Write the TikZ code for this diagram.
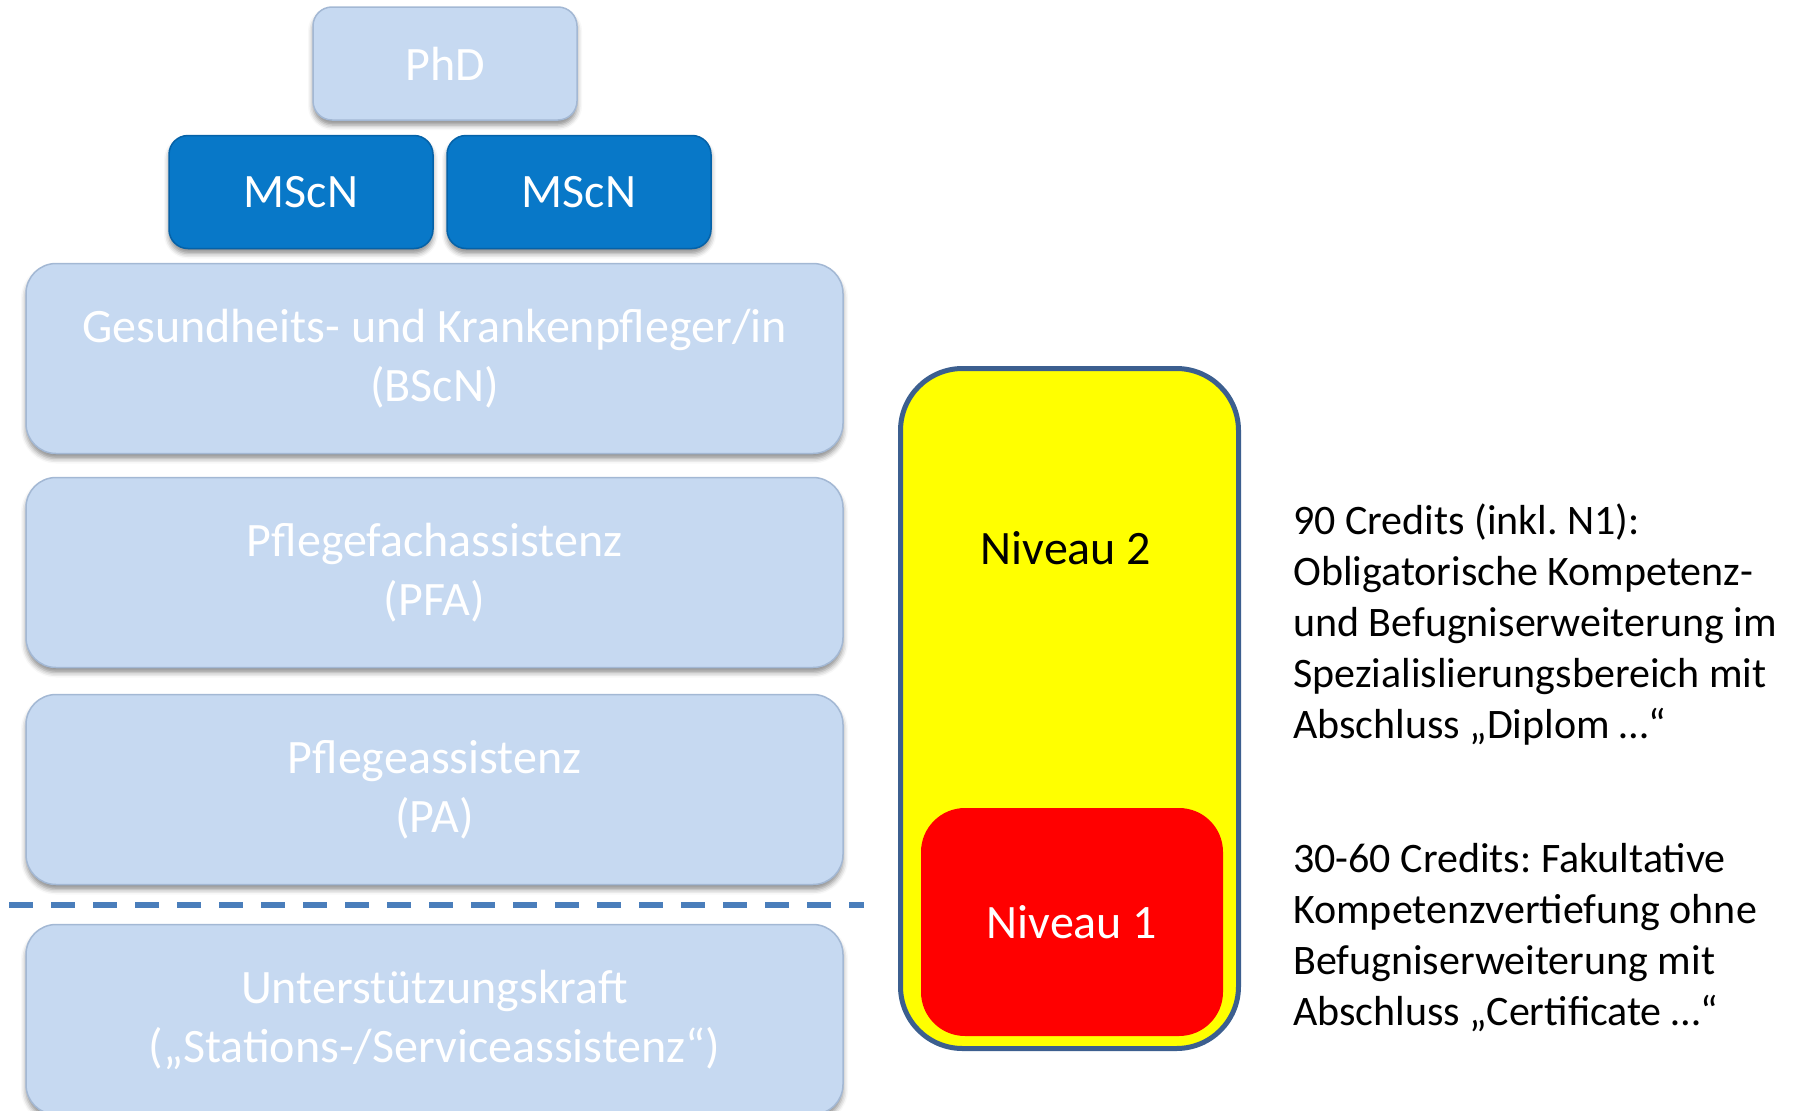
\documentclass[tikz,border=0pt]{standalone}
\usepackage{fontspec}
\setmainfont{Carlito}
\usetikzlibrary{positioning, shadows.blur}
\frenchspacing

\definecolor{stufefill}{HTML}{C6D9F1}
\definecolor{stufeedge}{HTML}{A3B8D4}
\definecolor{mscfill}{HTML}{0878C8}
\definecolor{mscedge}{HTML}{0562A8}
\definecolor{trennblau}{HTML}{4A7EBB}
\definecolor{rahmenblau}{HTML}{3C5F8F}
\definecolor{gelb}{RGB}{255,255,0}
\definecolor{rot}{RGB}{255,0,0}

\begin{document}
\begin{tikzpicture}[x=1pt, y=1pt,
    stufe/.style={rectangle, rounded corners=30pt, fill=stufefill, draw=stufeedge,
      line width=1.5pt, minimum width=817pt, minimum height=190pt, inner sep=0pt,
      align=center, text=white, font=\fontsize{48}{59}\selectfont,
      blur shadow={shadow xshift=0pt, shadow yshift=-5pt, shadow blur radius=5pt, shadow opacity=45}},
    titel/.style={stufe, rounded corners=19pt, minimum width=264pt, minimum height=113pt},
    master/.style={titel, fill=mscfill, draw=mscedge},
    niveau/.style={rectangle, inner sep=0pt, font=\fontsize{48}{59}\selectfont},
    erklaerung/.style={anchor=base west, inner sep=0pt, align=left,
      font=\fontsize{42}{51}\selectfont}
  ]

  \useasboundingbox (0,0) rectangle (1797,-1111);

  % --- Stufenleiter links ---
  \node[titel] (phd) at (445,-63.5) {PhD};
  \node[master] (mscA) at (301,-192) {MScN};
  \node[master] (mscB) at (579,-192) {MScN};
  \node[stufe] (bscn) at (434.5,-358.5) {Gesundheits- und Krankenpfleger/in\\(BScN)};
  \node[stufe, below=22.5pt of bscn] (pfa) {Pflegefachassistenz\\(PFA)};
  \node[stufe, below=25.5pt of pfa] (pa) {Pflegeassistenz\\(PA)};
  \node[stufe, below=38.5pt of pa] (usk) {Unterstützungskraft\\(„Stations-/Serviceassistenz“)};

  % --- Trennlinie zwischen PA und Unterstuetzungskraft ---
  \coordinate (trennL) at (9,-905);
  \coordinate (trennR) at (864,-905);
  \draw[trennblau, line width=6pt, dash pattern=on 24pt off 18pt] (trennL) -- (trennR);

  % --- Niveaus rechts ---
  \node[niveau, fill=gelb, draw=rahmenblau, line width=5pt, rounded corners=62pt,
    minimum width=338pt, minimum height=680pt] (rahmen) at (1069.5,-708.5) {};
  \node[niveau, fill=rot, text=white, rounded corners=44pt,
    minimum width=302pt, minimum height=228pt] (niv1) at (1072,-922) {Niveau 1};
  \node[niveau] (niv2) at (1066,-548) {Niveau 2};

  % --- Erlaeuterungen (base = letzte Zeile) ---
  \node[erklaerung] (txtNiv2) at (1293,-738) {90 Credits (inkl. N1):\\Obligatorische Kompetenz-\\und Befugniserweiterung im\\Spezialislierungsbereich mit\\Abschluss „Diplom …“};
  \node[erklaerung] (txtNiv1) at (1293,-1025) {30-60 Credits: Fakultative\\Kompetenzvertiefung ohne\\Befugniserweiterung mit\\Abschluss „Certificate …“};

\end{tikzpicture}
\end{document}
